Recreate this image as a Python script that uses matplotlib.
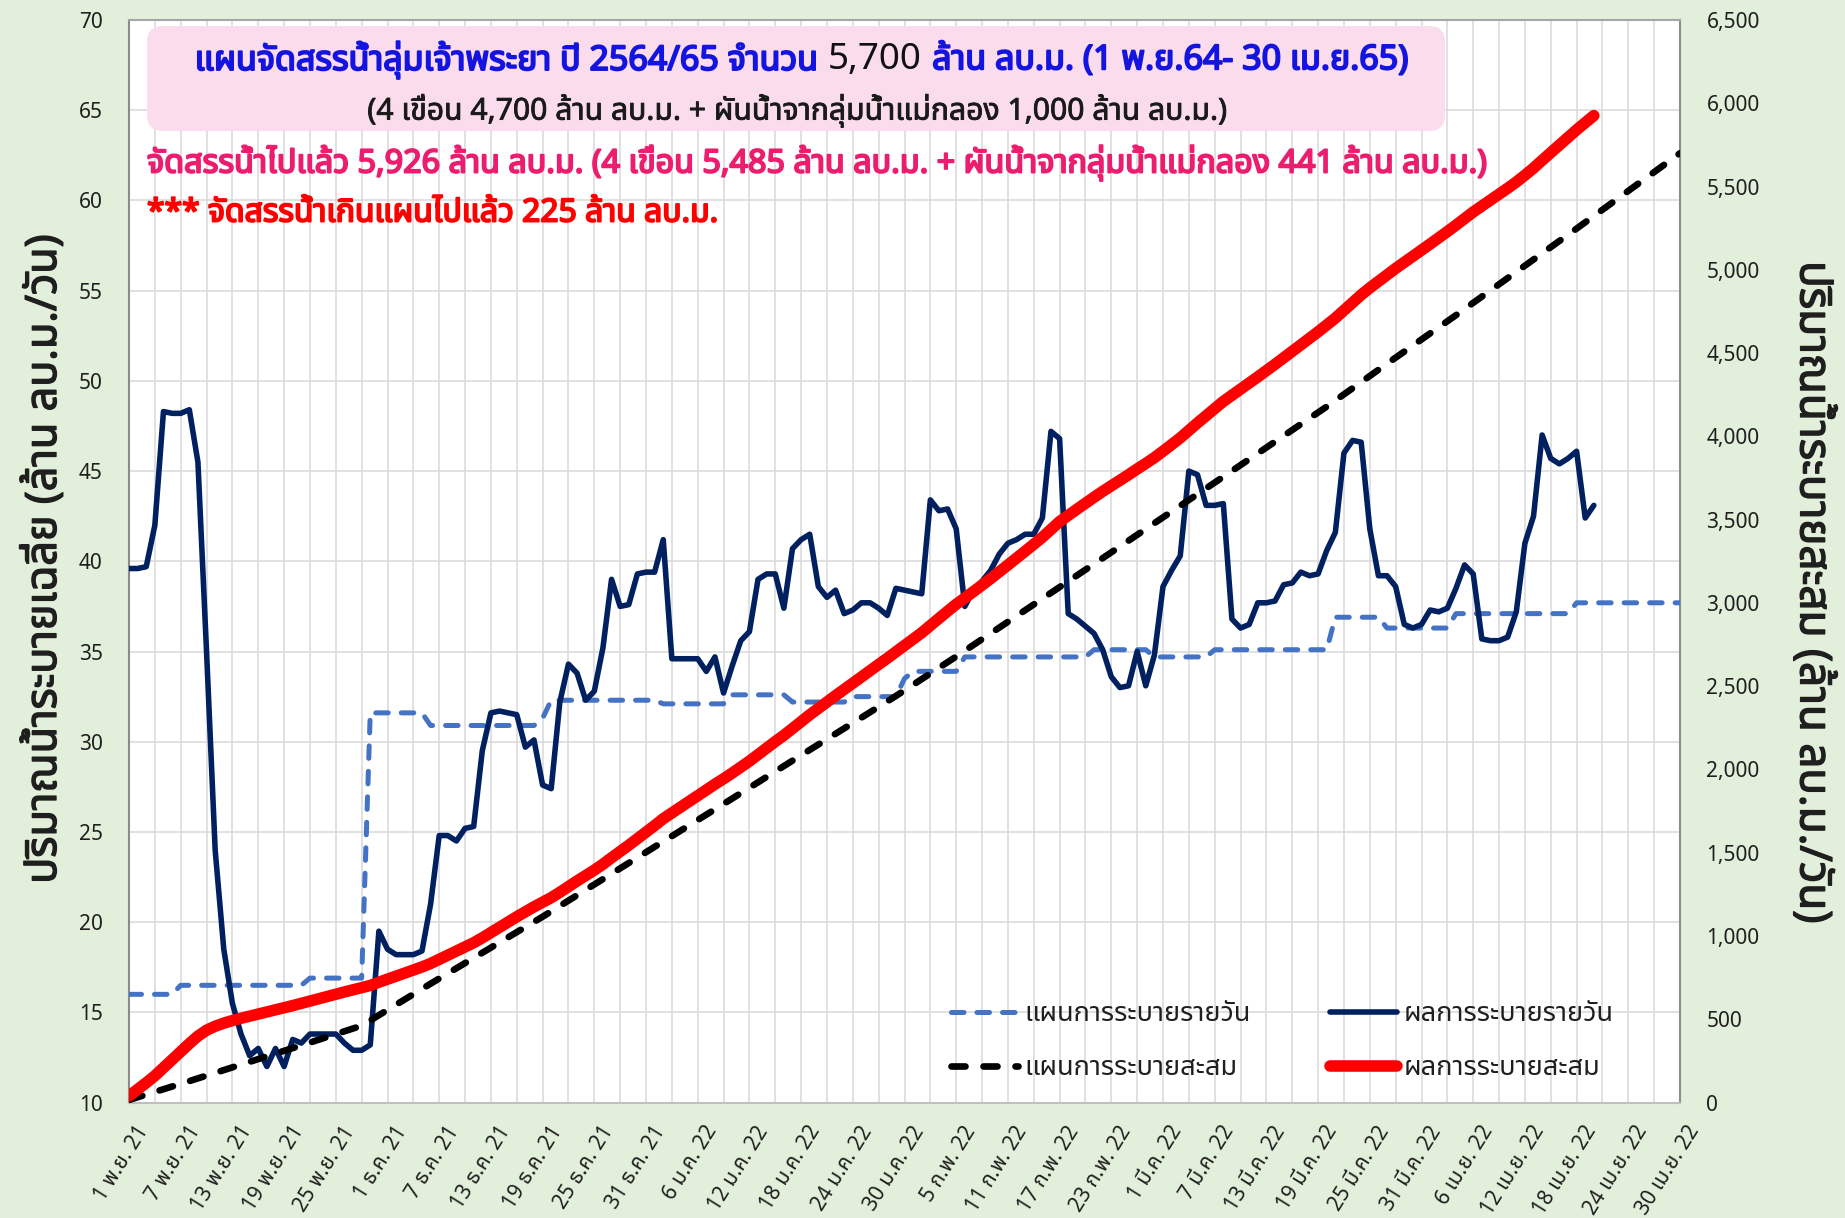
import numpy as np
import pandas as pd
import matplotlib
matplotlib.use("Agg")
import matplotlib.pyplot as plt
import matplotlib.patheffects as pe
from matplotlib import font_manager
from matplotlib.ft2font import FT2Font
from matplotlib.patches import FancyBboxPatch
from matplotlib.transforms import IdentityTransform, ScaledTranslation
from matplotlib.ticker import FuncFormatter, MultipleLocator

W, H = 1845, 1218

# ---- data -------------------------------------------------------------
start_date = "2021-11-01"
end_date = "2022-04-30"
thai_months = {11: "พ.ย.", 12: "ธ.ค.", 1: "ม.ค.", 2: "ก.พ.", 3: "มี.ค.", 4: "เม.ย."}

# daily plan (million m3/day): level and number of days it holds
plan_levels = [16.0, 16.5, 16.9, 31.6, 30.9, 31.3, 32.3, 32.1, 32.6, 32.2, 32.5,
               33.5, 33.9, 34.7, 35.1, 34.7, 35.1, 36.9, 36.3, 37.1, 37.7]
plan_days = [6, 15, 7, 7, 13, 1, 13, 8, 7, 7, 6,
             1, 6, 15, 7, 7, 14, 6, 8, 14, 13]

# actual daily release (million m3/day), 1 Nov 2021 - 20 Apr 2022
actual_daily = [
    39.6, 39.6, 39.7, 42.0, 48.3, 48.2, 48.2, 48.4, 45.5, 35.0,
    24.0, 18.5, 15.5, 13.8, 12.6, 13.0, 12.0, 13.0, 12.0, 13.5,
    13.3, 13.8, 13.8, 13.8, 13.8, 13.3, 12.9, 12.9, 13.2, 19.5,
    18.5, 18.2, 18.2, 18.2, 18.4, 21.0, 24.8, 24.8, 24.5, 25.2,
    25.3, 29.5, 31.6, 31.7, 31.6, 31.5, 29.7, 30.1, 27.6, 27.4,
    32.2, 34.3, 33.8, 32.3, 32.8, 35.2, 39.0, 37.5, 37.6, 39.3,
    39.4, 39.4, 41.2, 34.6, 34.6, 34.6, 34.6, 33.9, 34.7, 32.7,
    34.2, 35.6, 36.1, 39.0, 39.3, 39.3, 37.4, 40.7, 41.2, 41.5,
    38.6, 38.0, 38.4, 37.1, 37.3, 37.7, 37.7, 37.4, 37.0, 38.5,
    38.4, 38.3, 38.2, 43.4, 42.8, 42.9, 41.8, 37.5, 38.4, 38.9,
    39.5, 40.4, 41.0, 41.2, 41.5, 41.5, 42.4, 47.2, 46.8, 37.1,
    36.8, 36.4, 36.0, 35.1, 33.6, 33.0, 33.1, 35.0, 33.1, 34.8,
    38.6, 39.5, 40.3, 45.0, 44.8, 43.1, 43.1, 43.2, 36.8, 36.3,
    36.5, 37.7, 37.7, 37.8, 38.7, 38.8, 39.4, 39.2, 39.3, 40.6,
    41.6, 46.0, 46.7, 46.6, 41.8, 39.2, 39.2, 38.6, 36.5, 36.3,
    36.5, 37.3, 37.2, 37.4, 38.5, 39.8, 39.3, 35.7, 35.6, 35.6,
    35.8, 37.2, 41.0, 42.5, 47.0, 45.7, 45.4, 45.7, 46.1, 42.4,
    43.1,
]

left_ticks = np.arange(10, 71, 5)
right_ticks = np.arange(0, 6501, 500)

title_parts = [
    ("แผนจัดสรรน้ำลุ่มเจ้าพระยา ปี 2564/65 จำนวน", "#1414E0", True, 1.0),
    ("5,700", "#111111", False, 1.08),
    ("ล้าน ลบ.ม. (1 พ.ย.64- 30 เม.ย.65)", "#1414E0", True, 1.0),
]
subtitle = "(4 เขื่อน 4,700 ล้าน ลบ.ม. + ผันน้ำจากลุ่มน้ำแม่กลอง 1,000 ล้าน ลบ.ม.)"
status_line = ("จัดสรรน้ำไปแล้ว 5,926 ล้าน ลบ.ม. (4 เขื่อน 5,485 ล้าน ลบ.ม. + "
               "ผันน้ำจากลุ่มน้ำแม่กลอง 441 ล้าน ลบ.ม.)")
excess_line = "*** จัดสรรน้ำเกินแผนไปแล้ว 225 ล้าน ลบ.ม."
left_label = "ปริมาณน้ำระบายเฉลี่ย (ล้าน ลบ.ม./วัน)"
right_label = "ปริมาณน้ำระบายสะสม (ล้าน ลบ.ม./วัน)"
legend_labels = ["แผนการระบายรายวัน", "แผนการระบายสะสม",
                 "ผลการระบายรายวัน", "ผลการระบายสะสม"]


# ---- font with Thai glyphs -------------------------------------------
def thai_family():
    preferred = ["Tahoma", "Leelawadee UI", "Noto Sans Thai", "Noto Sans Thai UI",
                 "Sarabun", "Loma", "Garuda", "Waree", "Umpush", "Kinnari", "Norasi"]
    found = {}
    for f in font_manager.fontManager.ttflist:
        try:
            if 0x0E01 in FT2Font(f.fname).get_charmap():
                found.setdefault(f.name, f.fname)
        except Exception:
            continue
    for name in preferred:
        if name in found:
            return name
    return sorted(found)[0] if found else "DejaVu Sans"


thai = thai_family()
plt.rcParams["font.family"] = [thai, "DejaVu Sans"]

bg = "#E2EFDA"
grid_c = "#D9D9D9"
text_c = "#1F1F1F"


def heavy(color, w=1.3):
    # thickened glyph outline, stands in for a bold face
    return [pe.withStroke(linewidth=w, foreground=color)]


plan_daily = np.repeat(plan_levels, plan_days)
plan_cum = np.cumsum(plan_daily)
actual_cum = np.cumsum(actual_daily)
x_plan = np.arange(len(plan_daily))
x_act = np.arange(len(actual_daily))

fig = plt.figure(figsize=(W / 100, H / 100), dpi=100, facecolor=bg)
ax = fig.add_axes([129 / W, 1 - 1102.6 / H, (1680 - 129) / W, (1102.6 - 20) / H])
ax.set_facecolor("white")
ax2 = ax.twinx()

# daily series on the left axis
ax.plot(x_plan, plan_daily, color="#4472C4", lw=3.6, linestyle=(0, (2.5, 2.6)),
        dash_capstyle="round", zorder=3)
ax.plot(x_act, actual_daily, color="#002060", lw=4.0, solid_joinstyle="round",
        solid_capstyle="round", zorder=4)

# cumulative series on the right axis
ax2.plot(x_plan, plan_cum, color="black", lw=4.8, linestyle=(0, (2.1, 2.7)),
         dash_capstyle="round", zorder=3)
ax2.plot(x_act, actual_cum, color="#FF0000", lw=8.3, solid_capstyle="round",
         solid_joinstyle="round", zorder=4)

ax.set_xlim(0, 180)
ax.set_ylim(10, 70)
ax2.set_ylim(0, 6500)

dates = pd.date_range(start_date, end_date)
tick_days = np.arange(0, 181, 6)
tick_labels = [f"{dates[d].day} {thai_months[dates[d].month]} {dates[d].year % 100}"
               for d in tick_days]
ax.set_xticks(tick_days)
ax.set_xticklabels(tick_labels, rotation=58, ha="right", va="center",
                   rotation_mode="anchor", fontsize=15, color=text_c,
                   fontstretch="condensed")
ax.xaxis.set_minor_locator(MultipleLocator(3))
ax.set_yticks(left_ticks)
ax2.set_yticks(right_ticks)
ax2.yaxis.set_major_formatter(FuncFormatter(lambda v, _: f"{v:,.0f}"))

ax.grid(True, which="both", axis="x", color=grid_c, lw=1.1)
ax.grid(True, which="major", axis="y", color=grid_c, lw=1.1)
ax.set_axisbelow(True)
ax.tick_params(which="both", length=0)
ax.tick_params(axis="y", labelsize=15, labelcolor=text_c, pad=19)
ax.tick_params(axis="x", pad=18)
ax2.tick_params(length=0, labelsize=15, labelcolor=text_c, pad=19)

shift = ScaledTranslation(15 / 100, 0, fig.dpi_scale_trans)
for lbl in ax.get_xticklabels():
    lbl.set_transform(lbl.get_transform() + shift)

for s in ["top", "bottom", "left", "right"]:
    ax2.spines[s].set_visible(False)
ax.spines["left"].set_color("#8C8C8C")
ax.spines["right"].set_color("#8C8C8C")
ax.spines["top"].set_color("#A6A6A6")
ax.spines["bottom"].set_color("#BFBFBF")
for s in ax.spines.values():
    s.set_linewidth(1.5)

renderer = fig.canvas.get_renderer()


def fx(x):
    return x / W


def fy(y):
    return 1 - y / H


def fit(txt, target, vertical=False):
    bb = txt.get_window_extent(renderer)
    size = bb.height if vertical else bb.width
    txt.set_fontsize(txt.get_fontsize() * target / size)


# title box
box = FancyBboxPatch((147, H - 131), 1298, 105,
                     boxstyle="round,pad=0,rounding_size=16",
                     transform=IdentityTransform(), facecolor="#FBDCEC",
                     edgecolor="none", zorder=5)
fig.patches.append(box)

# first title line: blue bold with the total in black
arts = []
for s, c, bold, k in title_parts:
    a = fig.text(0, 0, s, color=c, fontsize=20 * k, fontstretch="condensed",
                 ha="left", va="center", zorder=6)
    if bold:
        a.set_path_effects(heavy(c, 1.4))
    arts.append(a)
widths = [a.get_window_extent(renderer).width for a in arts]
gap = 0.3 * 20 * 100 / 72
scale = (1210 - 2 * gap) / sum(widths)
for a in arts:
    a.set_fontsize(a.get_fontsize() * scale)
widths = [a.get_window_extent(renderer).width for a in arts]
gap = 0.3 * arts[0].get_fontsize() * 100 / 72
xpos = 802 - (sum(widths) + 2 * gap) / 2
for a, wd in zip(arts, widths):
    a.set_position((fx(xpos), fy(60)))
    xpos += wd + gap

t2 = fig.text(fx(798), fy(111), subtitle, color="#1A1A1A", fontsize=18,
              fontstretch="condensed", ha="center", va="center", zorder=6,
              path_effects=heavy("#1A1A1A", 0.6))
fit(t2, 859)
t3 = fig.text(fx(147), fy(163), status_line, color="#EC1C6E", fontsize=20,
              fontstretch="condensed", ha="left", va="center", zorder=6,
              path_effects=heavy("#EC1C6E", 1.4))
fit(t3, 1341)
t4 = fig.text(fx(147), fy(213), excess_line, color="#FF0000", fontsize=20,
              fontstretch="condensed", ha="left", va="center", zorder=6,
              path_effects=heavy("#FF0000", 1.4))
fit(t4, 571)

yl = fig.text(fx(45), fy(559), left_label, rotation=90, ha="center", va="center",
              fontsize=24, color=text_c, fontstretch="condensed",
              path_effects=heavy(text_c, 1.0))
fit(yl, 650, vertical=True)
yr = fig.text(fx(1812), fy(592), right_label, rotation=270, ha="center",
              va="center", fontsize=24, color=text_c, fontstretch="condensed",
              path_effects=heavy(text_c, 1.0))
fit(yr, 663, vertical=True)

# legend, laid out in pixels then converted to font-size units
probe = fig.text(0, 0, legend_labels[0], fontsize=16, fontstretch="condensed")
fit(probe, 226)
leg_size = probe.get_fontsize()
row_h = probe.get_window_extent(renderer).height
probe.remove()
fs_px = leg_size * 100 / 72
handles = ax.get_lines()[:1] + ax2.get_lines()[:1] + ax.get_lines()[1:2] + ax2.get_lines()[1:2]
leg = ax2.legend(handles, legend_labels, ncol=2, frameon=False,
                 prop={"size": leg_size, "stretch": "condensed"},
                 loc="center left", bbox_to_anchor=(fx(951), fy(1041)),
                 bbox_transform=fig.transFigure, borderpad=0, borderaxespad=0,
                 handlelength=67 / fs_px, handletextpad=6 / fs_px,
                 columnspacing=80 / fs_px, labelspacing=max(54 - row_h, 2) / fs_px,
                 labelcolor=text_c)
leg.set_zorder(10)

fig.savefig("out.png", dpi=100, facecolor=bg)
